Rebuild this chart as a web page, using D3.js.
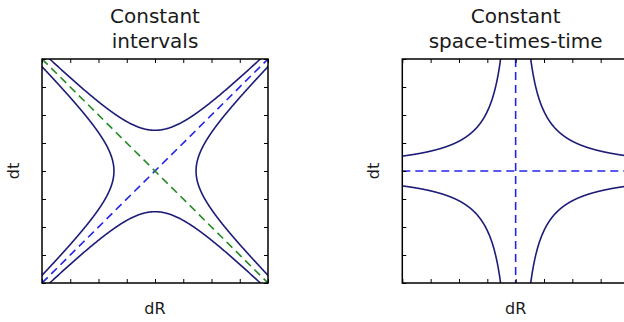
<!DOCTYPE html>
<html>
<head>
<meta charset="utf-8">
<script src="https://cdn.jsdelivr.net/npm/d3@7"></script>
<style>
  html,body{margin:0;padding:0;background:#fff;}
  svg text{font-family:"DejaVu Sans",sans-serif;fill:#1a1a1a;}
</style>
</head>
<body>
<svg id="chart" width="624" height="322"></svg>
<script>
// ---- data ----
const domain = [-1, 1];
const tickValues = [-1, -0.75, -0.5, -0.25, 0, 0.25, 0.5, 0.75, 1];
const intervalConst = 0.132;   // t^2 - R^2 = ±c   (left panel)
const productConst = 0.133;    // t * R = ±c       (right panel)
const panelTitles = [["Constant", "intervals"], ["Constant", "space-times-time"]];
const xLabel = "dR", yLabel = "dt";

const NAVY = "#1c1c78", BLUE = "#2424e6", GREEN = "#238a23";

const svg = d3.select("#chart");
const panels = [
  {x0: 42, x1: 268, y0: 59, y1: 283},
  {x0: 402.3, x1: 629, y0: 59, y1: 283}
];

const samples = d3.range(0, 1.0001, 0.002);

function dashed(sel, color){
  return sel.attr("fill", "none").attr("stroke", color)
    .attr("stroke-width", 1.6).attr("stroke-dasharray", "8,5");
}

panels.forEach((p, i) => {
  const x = d3.scaleLinear().domain(domain).range([p.x0, p.x1]);
  const y = d3.scaleLinear().domain(domain).range([p.y1, p.y0]);
  const g = svg.append("g");
  const clipId = "clip" + i;
  svg.append("clipPath").attr("id", clipId).append("rect")
    .attr("x", p.x0).attr("y", p.y0).attr("width", p.x1 - p.x0).attr("height", p.y1 - p.y0);
  const plot = g.append("g").attr("clip-path", `url(#${clipId})`);
  const line = d3.line().x(d => x(d[0])).y(d => y(d[1]));

  const curves = [];
  if (i === 0) {
    const c = intervalConst;
    const r = d3.range(-1, 1.0001, 0.005);
    // time-like branches (top/bottom)
    curves.push(r.map(v => [v, Math.sqrt(v * v + c)]));
    curves.push(r.map(v => [v, -Math.sqrt(v * v + c)]));
    // space-like branches (left/right)
    curves.push(r.map(v => [Math.sqrt(v * v + c), v]));
    curves.push(r.map(v => [-Math.sqrt(v * v + c), v]));
    dashed(plot.append("path").attr("d", line([[-1, -1], [1, 1]])), BLUE);
    dashed(plot.append("path").attr("d", line([[-1, 1], [1, -1]])), GREEN);
  } else {
    const c = productConst;
    const r = samples.filter(v => v > 0.05);
    [[1, 1], [-1, 1], [1, -1], [-1, -1]].forEach(([sx, sy]) => {
      curves.push(r.map(v => [sx * v, sy * c / v]));
    });
    dashed(plot.append("path").attr("d", line([[0, 1], [0, -1]])), BLUE);
    dashed(plot.append("path").attr("d", line([[-1, 0], [1, 0]])), BLUE);
  }
  curves.forEach(cv => {
    plot.append("path").attr("d", line(cv))
      .attr("fill", "none").attr("stroke", NAVY).attr("stroke-width", 1.6);
  });

  // ticks inward on all four sides, no labels
  const tl = 4;
  const axes = [
    d3.axisBottom(x).tickValues(tickValues).tickSizeInner(-tl).tickSizeOuter(0).tickFormat(""),
    d3.axisTop(x).tickValues(tickValues).tickSizeInner(-tl).tickSizeOuter(0).tickFormat(""),
    d3.axisLeft(y).tickValues(tickValues).tickSizeInner(-tl).tickSizeOuter(0).tickFormat(""),
    d3.axisRight(y).tickValues(tickValues).tickSizeInner(-tl).tickSizeOuter(0).tickFormat("")
  ];
  const pos = [`translate(0,${p.y1})`, `translate(0,${p.y0})`, `translate(${p.x0},0)`, `translate(${p.x1},0)`];
  axes.forEach((a, k) => {
    const ax = g.append("g").attr("transform", pos[k]).call(a);
    ax.select(".domain").remove();
    ax.selectAll("line").attr("stroke", "#000").attr("stroke-width", 1);
  });

  g.append("rect").attr("x", p.x0).attr("y", p.y0)
    .attr("width", p.x1 - p.x0).attr("height", p.y1 - p.y0)
    .attr("fill", "none").attr("stroke", "#000").attr("stroke-width", 1.5);

  const cx = (p.x0 + p.x1) / 2;
  const title = g.append("text").attr("x", cx).attr("text-anchor", "middle")
    .attr("font-size", 20);
  panelTitles[i].forEach((t, k) => {
    title.append("tspan").attr("x", cx).attr("y", 23 + k * 25).text(t);
  });

  g.append("text").attr("x", cx).attr("y", 314).attr("text-anchor", "middle")
    .attr("font-size", 16).text(xLabel);
  g.append("text").attr("transform", `translate(${p.x0 - 23},${(p.y0 + p.y1) / 2}) rotate(-90)`)
    .attr("text-anchor", "middle").attr("font-size", 16).text(yLabel);
});
</script>
</body>
</html>
